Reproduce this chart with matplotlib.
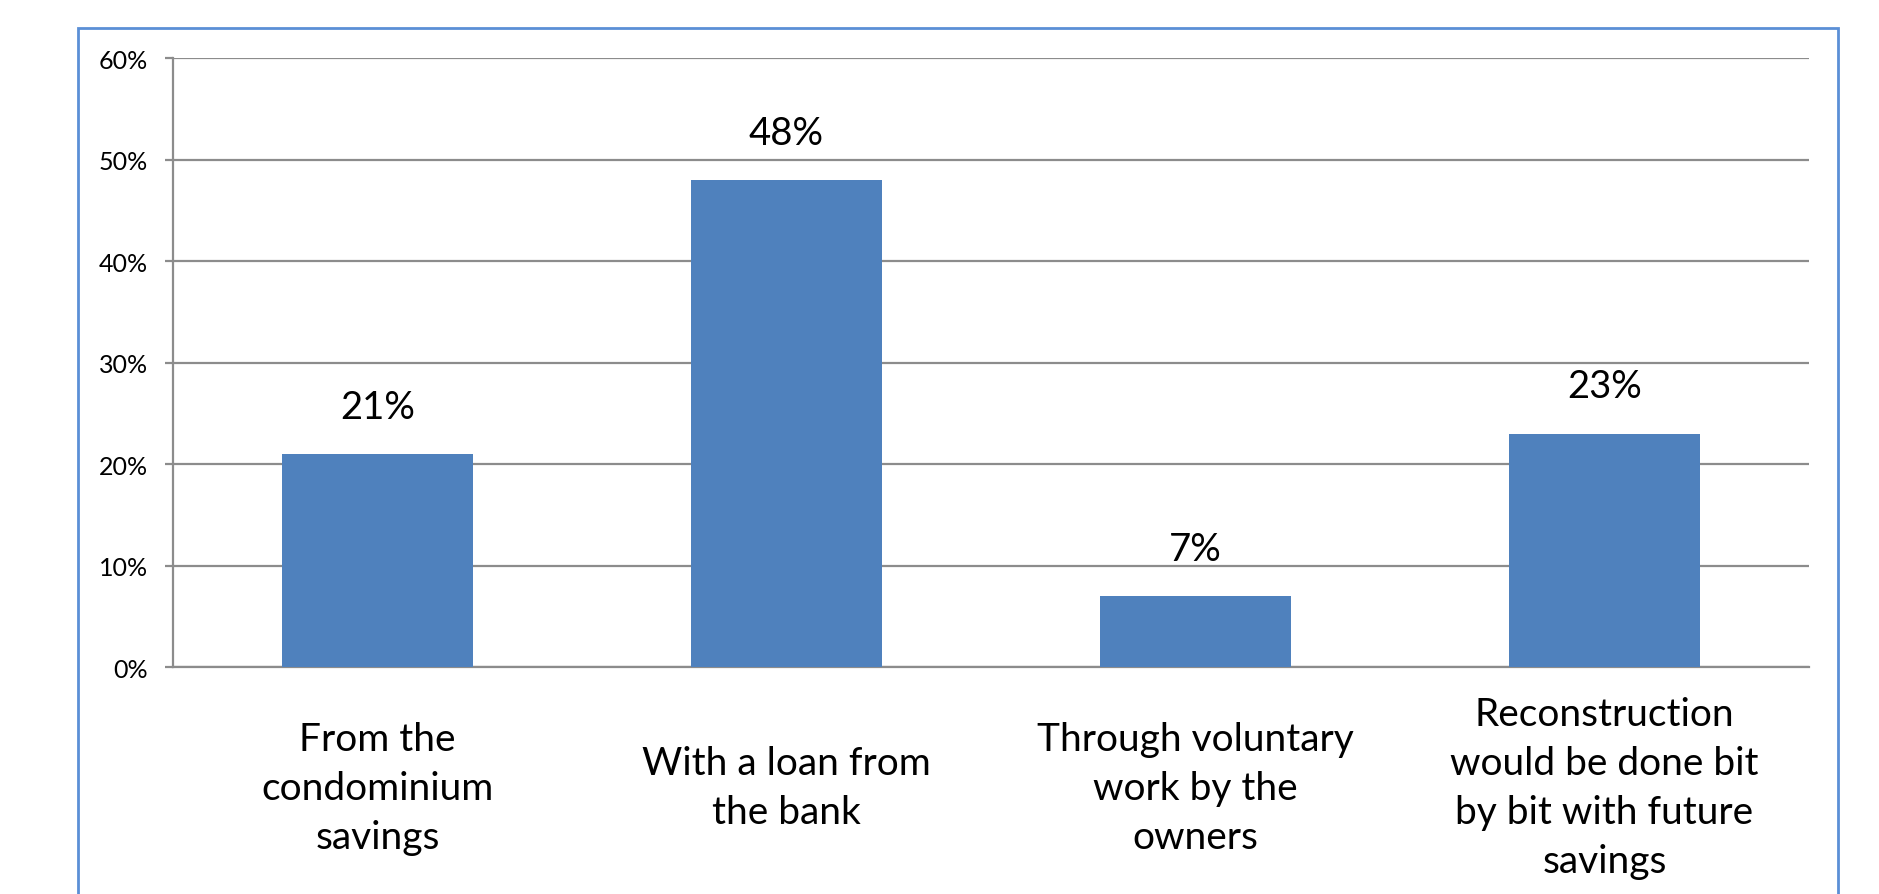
import matplotlib.pyplot as plt
from matplotlib.patches import Rectangle
from matplotlib.ticker import FuncFormatter

# Data
categories = ['From the\ncondominium\nsavings',
              'With a loan from\nthe bank',
              'Through voluntary\nwork by the\nowners',
              'Reconstruction\nwould be done bit\nby bit with future\nsavings']
shares = [21, 48, 7, 23]
yticks = [0, 10, 20, 30, 40, 50, 60]

plt.rcParams['font.family'] = ['Lato', 'DejaVu Sans']

fig = plt.figure(figsize=(18.79, 8.95), dpi=100)
ax = fig.add_axes([0.0921, 0.2536, 0.8706, 0.6804])

x = range(len(categories))
ax.bar(x, shares, width=0.467, color='#4F81BD', zorder=3)

# data labels
for xi, v in zip(x, shares):
    ax.annotate(f'{v}%', (xi, v), xytext=(0, 34), textcoords='offset points',
                ha='center', va='center', fontsize=27.5, color='black')

ax.set_xlim(-0.5, len(categories) - 0.5)
ax.set_ylim(0, 60)
ax.set_yticks(yticks)
ax.yaxis.set_major_formatter(FuncFormatter(lambda v, p: f'{v:.0f}%'))
ax.yaxis.grid(True, color='#8C8C8C', linewidth=1.6, zorder=0)
ax.set_xticks(list(x))
ax.set_xticklabels(categories, fontsize=28, linespacing=1.45)
for lab in ax.get_xticklabels():
    lab.set_verticalalignment('center')
ax.tick_params(axis='x', length=0, pad=87)
ax.tick_params(axis='y', length=6, width=1.6, color='#8C8C8C',
               labelsize=18, pad=12)

for s in ['top', 'right']:
    ax.spines[s].set_visible(False)
for s in ['left', 'bottom']:
    ax.spines[s].set_color('#8C8C8C')
    ax.spines[s].set_linewidth(1.6)

# outer chart border (bottom edge falls outside the image)
border = Rectangle((78 / 1879, -0.1), (1838 - 78) / 1879, 1.1 - 29 / 895,
                   transform=fig.transFigure, fill=False,
                   edgecolor='#5B8FD6', linewidth=2, clip_on=False)
fig.patches.append(border)

fig.savefig('out.png', dpi=100)
